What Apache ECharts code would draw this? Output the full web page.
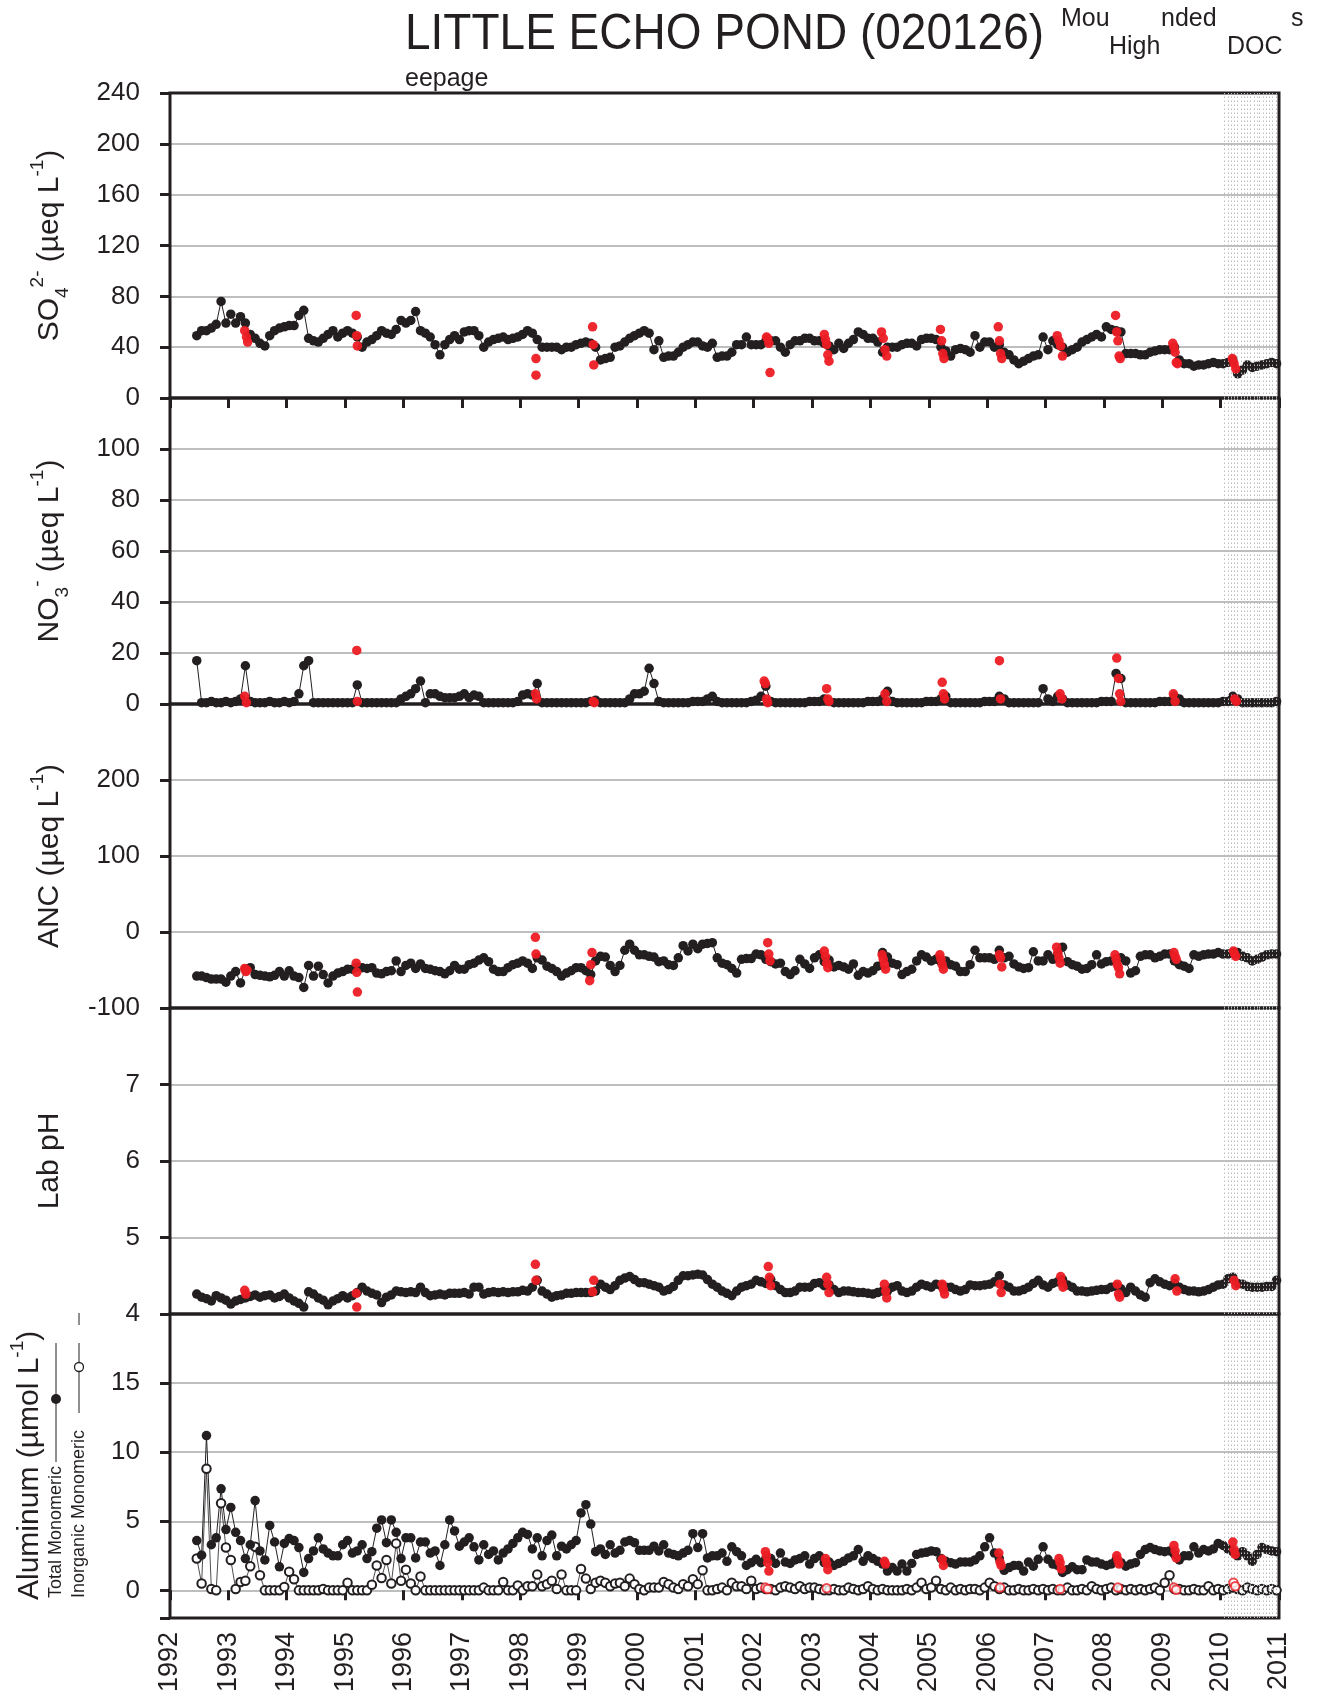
<!DOCTYPE html>
<html><head><meta charset="utf-8">
<script src="https://cdn.jsdelivr.net/npm/echarts@6/dist/echarts.min.js"></script>
<style>html,body{margin:0;padding:0;background:#fff}#c{width:1317px;height:1706px}</style>
</head><body><div id="c"></div><script>
// ---------------- DATA (monthly samples, Jun 1992 .. Dec 2010) ----------------
const firstSampleYear = 1992, firstSampleMonth = 6; // June 1992
const xTickYears = [1992,1993,1994,1995,1996,1997,1998,1999,2000,2001,2002,2003,2004,2005,2006,2007,2008,2009,2010,2011];

const so4Values = [
 49,53,53,55,58,76,59,
 66,59,64,59,50,47,43,41,49,53,55,56,
 57,57,65,69,47,45,44,47,50,53,48,51,
 53,51,48,40,44,46,49,53,51,50,54,61,
 59,61,68,53,51,48,42,34,42,46,49,46,
 52,53,53,49,40,44,46,47,48,46,47,48,
 50,53,51,46,40,40,40,40,38,40,40,42,
 43,44,43,40,30,31,32,40,41,44,47,49,
 51,53,51,38,45,32,33,33,36,40,42,44,
 44,41,40,43,32,33,33,36,42,42,48,42,
 42,42,45,45,45,40,36,42,45,45,47,47,
 45,45,43,41,38,43,39,43,46,52,50,47,
 47,44,36,40,40,40,42,43,43,41,46,47,
 47,46,40,37,33,38,39,38,36,49,40,44,
 44,40,42,36,34,30,27,29,31,33,34,48,
 38,45,42,40,36,38,40,44,46,48,50,48,
 56,54,53,52,35,35,35,34,34,36,37,38,
 38,38,40,30,27,27,25,26,26,27,28,27,
 27,28,30,19,22,26,24,25,26,27,28,27
];
const so4RedDates = [1993.28,1993.31,1993.33, 1995.19,1995.20,1995.21, 1998.27,1998.27, 1999.24,1999.25,1999.26, 2002.22,2002.24,2002.26,2002.28, 2003.21,2003.23,2003.25,2003.27,2003.29, 2004.19,2004.22,2004.25,2004.28, 2005.20,2005.22,2005.24,2005.26, 2006.19,2006.21,2006.23,2006.25, 2007.20,2007.23,2007.26,2007.29, 2008.20,2008.22,2008.24,2008.26,2008.28, 2009.18,2009.20,2009.22,2009.24,2009.26, 2010.20,2010.23,2010.26];
const so4RedValues = [53,48,44, 65,49,41, 31,18, 56,42,26, 48,47,43,20, 50,46,42,34,29, 52,47,38,33, 54,45,35,31, 56,45,35,31, 49,45,41,33, 65,52,45,33,31, 43,40,36,28,27, 31,27,23];

const no3Values = [
 17,0.5,0.5,1,0.5,0.5,1,
 0.5,1,2,15,1,0.5,0.5,0.5,1,0.5,0.5,1,
 0.5,1,4,15,17,0.5,0.5,0.5,0.5,0.5,0.5,0.5,
 0.5,0.5,7.5,0.5,0.5,0.5,0.5,0.5,0.5,0.5,0.5,2,
 3,4,6,9,0.5,4,4,3,2.5,2.5,2.5,3,
 4,2.5,3.5,3,0.5,0.5,0.5,0.5,0.5,0.5,0.5,1,
 3.5,4,3.5,8,0.5,0.5,0.5,0.5,0.5,0.5,0.5,0.5,
 0.5,0.5,1,1.5,0.5,0.5,0.5,0.5,0.5,0.5,2,4,
 4,5,14,8,1,0.5,0.5,0.5,0.5,0.5,0.5,1,
 1,1,2,3,1,0.5,0.5,0.5,0.5,0.5,0.5,1,
 1.5,3,7,1,0.5,0.5,0.5,0.5,0.5,0.5,0.5,1,
 1,1,2,1,0.5,0.5,0.5,0.5,0.5,0.5,0.5,1,
 1,1,2,5,1,0.5,0.5,0.5,0.5,0.5,0.5,1,
 1,1,2,3,0.5,0.5,0.5,0.5,0.5,0.5,0.5,1,
 1,1,3,2,0.5,0.5,0.5,0.5,0.5,0.5,0.5,6,
 2,1,3,2,0.5,0.5,0.5,0.5,0.5,0.5,0.5,1,
 1,1,12,10,0.5,0.5,0.5,0.5,0.5,0.5,0.5,1,
 1,1,3,2,0.5,0.5,0.5,0.5,0.5,0.5,0.5,0.5,
 1,1,3,2,0.5,0.5,0.5,0.5,0.5,0.5,0.5,1
];
const no3RedDates = [1993.28,1993.31, 1995.20,1995.21, 1998.26,1998.28, 1999.25,1999.27, 2002.18,2002.20,2002.22,2002.24, 2003.25,2003.27,2003.29, 2004.25,2004.28, 2005.23,2005.25,2005.27, 2006.21,2006.23, 2007.25,2007.28, 2008.22,2008.25,2008.27,2008.29, 2009.19,2009.22, 2010.24,2010.27];
const no3RedValues = [3,0.5, 21,1, 4,2, 1,0.5, 9,8,2,0.5, 6,2,1, 4,1, 8.5,4,2, 17,2, 4,2, 18,10,4,1, 4,1, 2,1];

const ancValues = [
 -58,-58,-60,-62,-62,-62,-66,
 -58,-52,-67,-49,-47,-56,-57,-58,-59,-57,-52,-58,
 -51,-58,-60,-73,-44,-58,-45,-56,-67,-58,-54,-52,
 -49,-49,-46,-47,-48,-47,-54,-55,-52,-51,-38,-52,
 -44,-41,-48,-42,-48,-49,-51,-52,-55,-51,-44,-49,
 -49,-43,-41,-37,-34,-39,-49,-52,-52,-47,-43,-41,
 -38,-41,-48,-34,-37,-45,-48,-52,-58,-54,-51,-47,
 -47,-51,-56,-38,-32,-33,-44,-52,-44,-24,-16,-24,
 -30,-30,-32,-33,-39,-38,-43,-44,-34,-18,-25,-16,
 -22,-16,-15,-14,-34,-41,-43,-48,-54,-36,-35,-35,
 -29,-30,-36,-39,-42,-41,-52,-56,-51,-36,-42,-48,
 -34,-30,-39,-37,-46,-44,-46,-49,-42,-57,-52,-54,
 -51,-45,-27,-33,-41,-43,-56,-52,-49,-38,-30,-33,
 -38,-36,-39,-38,-43,-45,-52,-52,-43,-24,-34,-34,
 -34,-36,-24,-34,-32,-42,-46,-48,-47,-26,-38,-38,
 -30,-36,-29,-20,-39,-43,-45,-49,-48,-43,-30,-42,
 -39,-38,-36,-34,-38,-54,-51,-32,-30,-30,-34,-32,
 -29,-29,-38,-43,-45,-48,-30,-32,-30,-29,-29,-27,
 -29,-29,-27,-27,-32,-34,-38,-36,-33,-30,-29,-29
];
const ancRedDates = [1993.28,1993.30,1993.32, 1995.19,1995.20,1995.21, 1998.26,1998.27, 1999.19,1999.21,1999.23, 2002.24,2002.26,2002.28, 2003.21,2003.23,2003.25,2003.27, 2004.20,2004.22,2004.24,2004.26, 2005.19,2005.21,2005.23,2005.25, 2006.21,2006.23,2006.25, 2007.19,2007.21,2007.23,2007.25, 2008.19,2008.21,2008.23,2008.25,2008.27, 2009.20,2009.22,2009.24, 2010.22,2010.24,2010.26];
const ancRedValues = [-48,-52,-50, -41,-53,-79, -7,-29, -64,-43,-27, -14,-29,-38, -25,-32,-41,-47, -30,-36,-43,-49, -30,-36,-43,-49, -30,-34,-46, -20,-27,-34,-41, -30,-36,-43,-47,-55, -27,-32,-36, -25,-29,-32];

const phValues = [
 4.26,4.22,4.20,4.17,4.24,4.21,4.18,
 4.13,4.17,4.19,4.21,4.23,4.25,4.22,4.24,4.25,4.21,4.23,4.26,
 4.21,4.17,4.14,4.09,4.29,4.26,4.21,4.18,4.12,4.17,4.20,4.24,
 4.21,4.24,4.28,4.35,4.30,4.27,4.25,4.15,4.22,4.25,4.30,4.29,
 4.28,4.29,4.28,4.35,4.28,4.24,4.25,4.26,4.25,4.27,4.27,4.27,
 4.28,4.26,4.35,4.35,4.26,4.28,4.29,4.28,4.29,4.28,4.29,4.29,
 4.31,4.30,4.35,4.44,4.30,4.26,4.22,4.24,4.25,4.27,4.27,4.28,
 4.28,4.28,4.28,4.30,4.39,4.35,4.32,4.37,4.44,4.47,4.49,4.45,
 4.41,4.41,4.39,4.37,4.35,4.30,4.32,4.36,4.44,4.50,4.50,4.51,
 4.52,4.51,4.45,4.39,4.35,4.30,4.27,4.24,4.30,4.35,4.37,4.39,
 4.44,4.42,4.40,4.45,4.37,4.32,4.28,4.28,4.30,4.35,4.35,4.35,
 4.40,4.41,4.37,4.38,4.32,4.28,4.30,4.30,4.29,4.28,4.28,4.27,
 4.26,4.28,4.30,4.30,4.35,4.37,4.30,4.28,4.30,4.35,4.39,4.37,
 4.35,4.39,4.37,4.35,4.35,4.32,4.30,4.32,4.38,4.37,4.37,4.38,
 4.39,4.42,4.50,4.38,4.35,4.30,4.30,4.32,4.35,4.40,4.44,4.38,
 4.35,4.40,4.42,4.45,4.38,4.35,4.30,4.30,4.29,4.30,4.31,4.32,
 4.32,4.35,4.36,4.33,4.28,4.35,4.30,4.25,4.22,4.41,4.46,4.42,
 4.39,4.37,4.40,4.35,4.32,4.30,4.30,4.29,4.30,4.32,4.35,4.38,
 4.39,4.46,4.48,4.40,4.39,4.36,4.35,4.35,4.35,4.36,4.36,4.44
];
const phRedDates = [1993.28,1993.30, 1995.19,1995.20, 1998.26,1998.27, 1999.24,1999.26, 2002.25,2002.27,2002.29, 2003.25,2003.27,2003.29, 2004.24,2004.26,2004.28, 2005.23,2005.25,2005.27, 2006.22,2006.24, 2007.26,2007.28,2007.30, 2008.23,2008.25,2008.27, 2009.22,2009.25, 2010.23,2010.26];
const phRedValues = [4.31,4.26, 4.27,4.09, 4.65,4.44, 4.29,4.44, 4.62,4.48,4.37, 4.48,4.39,4.28, 4.39,4.30,4.21, 4.39,4.32,4.26, 4.39,4.28, 4.49,4.41,4.35, 4.39,4.26,4.22, 4.46,4.30, 4.44,4.37];

const alTotalValues = [
 3.6,2.55,11.2,3.3,3.8,7.35,4.4,
 6.0,4.2,3.6,2.3,3.3,6.5,2.85,2.2,4.7,3.5,1.7,3.4,
 3.75,3.6,3.1,1.3,2.3,2.85,3.8,3.0,2.7,2.5,2.5,3.3,
 3.6,2.7,2.85,3.3,2.3,2.8,4.5,5.1,3.45,5.1,4.2,2.3,
 3.8,3.8,2.35,3.5,3.5,2.7,2.85,1.8,3.3,5.1,4.3,3.2,
 3.5,3.8,3.15,2.2,3.3,2.6,2.85,2.2,2.7,3.0,3.4,3.8,
 4.2,4.05,3.0,3.8,2.5,3.6,4.0,2.5,3.2,3.0,3.3,3.6,
 5.6,6.2,4.8,2.8,3.0,2.6,3.3,2.7,2.9,3.5,3.6,3.45,
 2.9,2.9,2.9,3.2,2.85,3.3,2.7,2.6,2.5,2.7,2.9,4.1,
 3.1,4.1,2.35,2.5,2.5,2.7,2.1,3.15,2.8,2.5,1.8,2.0,
 2.25,2.0,2.3,2.3,1.95,2.7,2.05,1.95,2.2,2.3,2.5,1.9,
 2.3,2.5,2.0,2.05,1.8,1.95,2.1,2.35,2.5,2.95,2.1,2.5,
 2.3,2.1,1.9,1.4,1.65,1.4,1.9,1.4,1.95,2.6,2.7,2.75,
 2.85,2.8,2.3,2.1,2.0,1.9,2.05,2.05,2.05,2.2,2.5,3.15,
 3.8,2.7,2.3,1.45,1.65,1.8,1.8,1.4,2.05,1.75,2.25,3.15,
 2.25,1.9,1.8,1.3,1.5,1.7,1.5,1.5,2.2,2.05,2.05,1.9,
 1.8,1.9,2.2,2.0,1.75,1.9,2.0,2.6,2.95,3.1,2.95,2.85,
 2.8,2.85,2.6,2.2,2.5,2.5,3.15,2.7,2.95,2.85,3.0,3.4,
 3.25,3.0,2.8,2.5,2.8,2.5,2.1,2.6,3.1,2.95,2.85,2.8
];
const alInorgValues = [
 2.3,0.5,8.8,0.1,0,6.3,3.1,
 2.2,0.1,0.6,0.7,1.75,3.15,1.1,0,0,0,0,0.25,
 1.35,0.8,0,0,0,0,0,0.1,0,0,0,0,
 0.55,0,0,0,0,0.4,1.8,0.9,2.2,0.5,3.4,0.7,
 1.5,0.5,0,1.0,0,0,0,0,0,0,0,0,
 0,0,0,0,0.2,0,0,0,0.6,0,0,0.35,
 0,0.3,0.3,1.15,0.3,0.45,0.7,0.1,1.15,0,0,0,
 1.55,0.85,0.1,0.55,0.7,0.55,0.3,0.5,0.55,0.3,0.85,0.45,
 0.1,0,0.2,0.2,0.2,0.6,0.45,0.2,0.1,0.45,0.3,0.8,
 0.45,1.45,0,0,0.1,0.2,0,0.55,0.3,0.3,0.1,0.7,
 0.1,0.2,0.1,0.1,0,0.2,0.3,0.2,0.1,0.3,0.1,0.2,
 0.2,0.1,0,0,0.1,0,0,0.2,0.1,0,0.1,0.3,
 0.1,0,0.1,0,0,0,0,0.1,0,0.2,0.55,0.1,
 0.2,0.7,0.1,0,0.2,0,0.1,0,0.1,0.1,0,0.2,
 0.55,0.3,0.1,0.2,0,0,0.1,0,0,0.1,0,0.1,
 0,0.1,0,0,0.2,0,0,0.1,0,0.3,0.1,0,
 0.1,0.2,0,0.1,0,0.1,0,0.1,0,0.1,0.2,0,
 0.55,1.1,0.1,0.1,0,0,0.1,0,0,0.3,0,0.1,
 0,0.1,0.2,0.1,0,0.2,0.1,0,0.1,0,0.1,0
];
const alRedDates = [2002.20,2002.22,2002.24,2002.26, 2003.23,2003.25,2003.27, 2004.24,2004.26, 2005.23,2005.25, 2006.20,2006.22,2006.24, 2007.23,2007.25,2007.27, 2008.22,2008.24,2008.26, 2009.20,2009.22,2009.24, 2010.21,2010.23,2010.25];
const alRedValues = [2.8,2.5,2.0,1.4, 2.3,1.95,1.5, 2.1,1.9, 2.25,1.8, 2.7,2.05,1.8, 2.3,2.0,1.55, 2.5,2.2,1.9, 3.25,2.85,2.35, 3.5,2.95,2.6];
const alInorgRedDates = [2002.20,2002.24, 2003.25, 2006.22, 2007.25, 2008.24, 2009.20,2009.24, 2010.22,2010.25];
const alInorgRedValues = [0.2,0.1, 0.15, 0.2, 0.1, 0.2, 0.2,0.05, 0.55,0.3];

// dotted hatch lines marking the final (provisional) period
const hatchYears = [2010.07,2010.125,2010.18,2010.235,2010.29,2010.345,2010.40,2010.455,2010.51,2010.565,2010.62,2010.675,2010.73,2010.785,2010.84,2010.895,2010.95];

// ---------------- CHART ----------------
const sampleDates = so4Values.map((_, i) => firstSampleYear + (firstSampleMonth - 1 + i + 0.5) / 12);
const pairs = vals => vals.map((v, i) => [sampleDates[i], v]);
const zip = (xs, ys) => xs.map((x, i) => [x, ys[i]]);

const FONT = "'Liberation Sans', Arial, Helvetica, sans-serif";
const INK = '#231f20';
const RED = '#ec1c24';
const GRIDC = '#bcbec0';

const panels = [
  {top: 93,   height: 305},
  {top: 398,  height: 306},
  {top: 704,  height: 304},
  {top: 1008, height: 306},
  {top: 1314, height: 304}
];

const richStyles = {
  b:   {fontSize: 30, lineHeight: 44, fontFamily: FONT, color: INK},
  sup: {fontSize: 19, lineHeight: 19, verticalAlign: 'top', fontFamily: FONT, color: INK},
  sub: {fontSize: 19, lineHeight: 19, verticalAlign: 'bottom', fontFamily: FONT, color: INK}
};

const yDefs = [
  {min: 0, max: 240, interval: 40, name: '{b|SO}{sub|4}{sup|2-}{b| (µeq L}{sup|-1}{b|)}', hide: []},
  {min: 0, max: 120, interval: 20, name: '{b|NO}{sub|3}{sup|-}{b| (µeq L}{sup|-1}{b|)}', hide: [120]},
  {min: -100, max: 300, interval: 100, name: '{b|ANC (µeq L}{sup|-1}{b|)}', hide: [300]},
  {min: 4, max: 8, interval: 1, name: '{b|Lab pH}', hide: [8]},
  {min: -2, max: 20, interval: null, name: '', hide: [20, -2]}
];

const grid = panels.map(p => ({left: 170, width: 1109, top: p.top, height: p.height, z: 1,
  show: true, borderColor: INK, borderWidth: 3, backgroundColor: 'transparent', outerBoundsMode: 'none'}));

const xAxis = panels.map((p, i) => {
  const ax = {gridIndex: i, type: 'value', min: 1992, max: 2011, interval: 1,
    axisLine: {show: false}, splitLine: {show: false},
    axisTick: {show: false}, axisLabel: {show: false}};
  if (i === 0) {
    ax.position = 'top';
    ax.axisTick = {show: true, inside: true, length: 10, lineStyle: {width: 3, color: INK}};
  }
  if (i === panels.length - 1) {
    ax.position = 'bottom';
    ax.axisTick = {show: true, inside: false, length: 10, lineStyle: {width: 3, color: INK}};
    ax.axisLabel = {show: true, rotate: 90, fontSize: 27, margin: 14, color: INK, fontFamily: FONT,
      formatter: v => xTickYears.includes(v) ? String(v) : ''};
  }
  return ax;
});

const yAxis = yDefs.map((d, i) => {
  const ax = {gridIndex: i, type: 'value', min: d.min, max: d.max,
    axisLine: {show: false},
    axisTick: {show: true, length: 10, lineStyle: {width: 3, color: INK}},
    axisLabel: {fontSize: 26, margin: 30, color: INK, fontFamily: FONT,
      formatter: v => d.hide.includes(v) ? '' : String(v)},
    splitLine: {show: true, lineStyle: {color: GRIDC, width: 2}},
    name: d.name, nameLocation: 'middle', nameRotate: 90, nameGap: 98,
    nameTextStyle: {fontSize: 30, fontFamily: FONT, color: INK, rich: richStyles}
  };
  if (d.interval) ax.interval = d.interval;
  return ax;
});

const hatch = {silent: true, symbol: ['none', 'none'], label: {show: false},
  lineStyle: {color: '#bdbdbd', type: [1.5, 2.5], width: 1}, animation: false,
  data: hatchYears.map(x => ({xAxis: x}))};

function blackLine(i, vals) {
  return {type: 'line', xAxisIndex: i, yAxisIndex: i, data: pairs(vals),
    symbol: 'circle', symbolSize: 9.5, showSymbol: true, z: 3,
    itemStyle: {color: INK}, lineStyle: {color: INK, width: 1},
    markLine: hatch};
}
function redDots(i, xs, ys) {
  return {type: 'scatter', xAxisIndex: i, yAxisIndex: i, data: zip(xs, ys),
    symbol: 'circle', symbolSize: 9.5, z: 5, itemStyle: {color: RED, opacity: 0.95}};
}

const series = [
  blackLine(0, so4Values), redDots(0, so4RedDates, so4RedValues),
  blackLine(1, no3Values), redDots(1, no3RedDates, no3RedValues),
  blackLine(2, ancValues), redDots(2, ancRedDates, ancRedValues),
  blackLine(3, phValues), redDots(3, phRedDates, phRedValues),
  {type: 'line', xAxisIndex: 4, yAxisIndex: 4, data: pairs(alInorgValues),
    symbol: 'emptyCircle', symbolSize: 8.5, showSymbol: true, z: 3,
    itemStyle: {color: INK, borderWidth: 1.3}, lineStyle: {color: INK, width: 0.8}},
  blackLine(4, alTotalValues),
  redDots(4, alRedDates, alRedValues),
  {type: 'scatter', xAxisIndex: 4, yAxisIndex: 4, data: zip(alInorgRedDates, alInorgRedValues),
    symbol: 'emptyCircle', symbolSize: 8.5, z: 6, itemStyle: {color: RED, borderWidth: 1.6}}
];

const txt = (x, y, text, size, extra) => Object.assign({type: 'text', x: x, y: y, z: 10,
  style: {text: text, fontSize: size, fontFamily: FONT, fill: INK, align: 'left', verticalAlign: 'middle',
          textAlign: 'left', textVerticalAlign: 'middle'}}, extra || {});

const graphic = [
  txt(405, 38, 'LITTLE ECHO POND (020126)', 46, {scaleY: 1.08, originY: 38}),
  txt(1061, 19, 'Mou', 25), txt(1161, 19, 'nded', 25), txt(1291, 19, 's', 25),
  txt(1109, 47, 'High', 25), txt(1227, 47, 'DOC', 25),
  txt(405, 79, 'eepage', 25),
  // aluminum axis title and legend key (rotated)
  {type: 'text', x: 30, y: 1600, rotation: Math.PI / 2, z: 10,
    style: {text: '{b|Aluminum (µmol L}{sup|-1}{b|)}', rich: richStyles, fontFamily: FONT, fill: INK,
      align: 'left', verticalAlign: 'middle', textAlign: 'left', textVerticalAlign: 'middle'}},
  txt(56, 1598, 'Total Monomeric', 18, {rotation: Math.PI / 2}),
  {type: 'line', shape: {x1: 56, y1: 1462, x2: 56, y2: 1343}, style: {stroke: INK, lineWidth: 1}, z: 10},
  {type: 'circle', shape: {cx: 56, cy: 1399, r: 5}, style: {fill: INK}, z: 11},
  txt(79, 1598, 'Inorganic Monomeric', 18, {rotation: Math.PI / 2}),
  {type: 'line', shape: {x1: 79, y1: 1413, x2: 79, y2: 1343}, style: {stroke: INK, lineWidth: 1}, z: 10},
  {type: 'circle', shape: {cx: 79, cy: 1367, r: 4.5}, style: {fill: '#fff', stroke: INK, lineWidth: 1.3}, z: 11},
  {type: 'line', shape: {x1: 79, y1: 1325, x2: 79, y2: 1313}, style: {stroke: INK, lineWidth: 1}, z: 10}
];

const chart = echarts.init(document.getElementById('c'), null, {renderer: 'canvas'});
chart.setOption({animation: false, backgroundColor: '#fff', grid, xAxis, yAxis, series, graphic});
</script></body></html>
